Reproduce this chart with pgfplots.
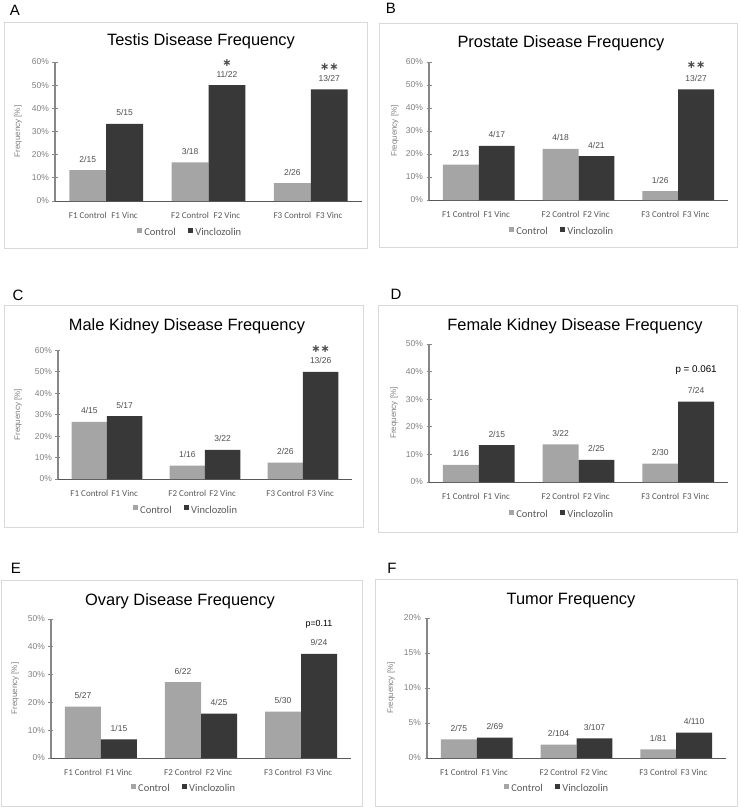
\documentclass[border=0pt]{standalone}
\usepackage{fontspec}
\setmainfont{Liberation Sans}
\newfontfamily\carl{Carlito}
\newfontfamily\djv{DejaVu Sans}
\usepackage{pgfplots}
\usepackage{pgfplotstable}
\pgfplotsset{compat=1.18}
\definecolor{ctrl}{HTML}{A5A5A5}
\definecolor{vinc}{HTML}{383838}
\definecolor{boxc}{HTML}{D9D9D9}
\definecolor{tickc}{HTML}{7F7F7F}
\definecolor{labc}{HTML}{4D4D4D}
\definecolor{catc}{HTML}{595959}
\definecolor{yax}{HTML}{888888}
\definecolor{xax}{HTML}{595959}

% data: x = bar position (generation 0,1,2 -/+ 0.18), y = frequency in %, lab = count
\pgfplotstableread{
x y lab
-0.18 13.33 2/15
0.82 16.67 3/18
1.82 7.69 2/26
}\Actrl
\pgfplotstableread{
x y lab
0.18 33.33 5/15
1.18 50.00 11/22
2.18 48.15 13/27
}\Avinc
\pgfplotstableread{
x y lab
-0.18 15.38 2/13
0.82 22.22 4/18
1.82 3.85 1/26
}\Bctrl
\pgfplotstableread{
x y lab
0.18 23.53 4/17
1.18 19.05 4/21
2.18 48.15 13/27
}\Bvinc
\pgfplotstableread{
x y lab
-0.18 26.67 4/15
0.82 6.25 1/16
1.82 7.69 2/26
}\Cctrl
\pgfplotstableread{
x y lab
0.18 29.41 5/17
1.18 13.64 3/22
2.18 50.00 13/26
}\Cvinc
\pgfplotstableread{
x y lab
-0.18 6.25 1/16
0.82 13.64 3/22
1.82 6.67 2/30
}\Dctrl
\pgfplotstableread{
x y lab
0.18 13.33 2/15
1.18 8.00 2/25
2.18 29.17 7/24
}\Dvinc
\pgfplotstableread{
x y lab
-0.18 18.52 5/27
0.82 27.27 6/22
1.82 16.67 5/30
}\Ectrl
\pgfplotstableread{
x y lab
0.18 6.67 1/15
1.18 16.00 4/25
2.18 37.50 9/24
}\Evinc
\pgfplotstableread{
x y lab
-0.18 2.67 2/75
0.82 1.92 2/104
1.82 1.23 1/81
}\Fctrl
\pgfplotstableread{
x y lab
0.18 2.90 2/69
1.18 2.80 3/107
2.18 3.64 4/110
}\Fvinc

\tikzset{sigstar/.style={font=\djv\bfseries\fontsize{11}{12}\selectfont, text=labc}}

\pgfplotsset{
  panel/.style={
    scale only axis, anchor=south west, clip=false,
    xmin=-0.5, xmax=2.5, ymin=0,
    axis lines*=left,
    x axis line style={draw=xax, line width=0.9pt},
    y axis line style={draw=yax, line width=1.1pt},
    xtick={-0.18,0.18,0.82,1.18,1.82,2.18},
    xticklabels={F1 Control, F1 Vinc, F2 Control, F2 Vinc, F3 Control, F3 Vinc},
    xticklabel style={font=\carl\fontsize{9}{10}\selectfont, text=catc, anchor=base, yshift=-14.5pt},
    x tick style={draw=none},
    y tick style={draw=yax, line width=0.9pt},
    tick align=center, major tick length=5pt,
    /pgf/number format/assume math mode=true,
    yticklabel={\pgfmathprintnumber{\tick}\%},
    yticklabel style={font=\fontsize{8.5}{10}\selectfont, text=tickc},
    ylabel={Frequency [\%]},
    ylabel style={font=\fontsize{8}{9}\selectfont, text=tickc, anchor=center},
    legend columns=2,
    legend style={draw=none, fill=none, anchor=center, font=\carl\fontsize{10.5}{12}\selectfont, text=catc,
      /tikz/every even column/.append style={column sep=10pt}, inner sep=0pt},
  },
  cbar/.style={ybar, bar width=0.36, bar shift=0, fill=ctrl, draw=none,
    nodes near coords, point meta=explicit symbolic,
    every node near coord/.append style={font=\fontsize{8.5}{10}\selectfont, text=labc, anchor=center, yshift=11pt},
    legend image code/.code={\fill[ctrl] (0pt,-0.3pt) rectangle (5.5pt,5.2pt);}},
  vbar/.style={ybar, bar width=0.36, bar shift=0, fill=vinc, draw=none,
    nodes near coords, point meta=explicit symbolic,
    every node near coord/.append style={font=\fontsize{8.5}{10}\selectfont, text=labc, anchor=center, yshift=11pt},
    legend image code/.code={\fill[vinc] (0pt,-0.3pt) rectangle (5.5pt,5.2pt);}},
}

\begin{document}
\begin{tikzpicture}
\useasboundingbox (0pt,0pt) rectangle (740pt,-807pt);

% panel frames
\draw[boxc, line width=0.8pt] (4pt,-22pt) rectangle (367pt,-248pt);
\draw[boxc, line width=0.8pt] (379pt,-23pt) rectangle (737pt,-247pt);
\draw[boxc, line width=0.8pt] (4pt,-305pt) rectangle (363pt,-527pt);
\draw[boxc, line width=0.8pt] (378pt,-305pt) rectangle (737pt,-532pt);
\draw[boxc, line width=0.8pt] (1pt,-580pt) rectangle (362pt,-806pt);
\draw[boxc, line width=0.8pt] (375pt,-579pt) rectangle (737pt,-806pt);

% panel letters
\begin{scope}[every node/.style={anchor=base, font=\fontsize{15}{18}\selectfont}]
\node at (15pt,-15pt) {A};
\node at (391pt,-13pt) {B};
\node at (18pt,-300pt) {C};
\node at (396pt,-299pt) {D};
\node at (16pt,-573pt) {E};
\node at (392pt,-573pt) {F};
\end{scope}

% titles
\begin{scope}[every node/.style={anchor=base, font=\fontsize{16.4}{19}\selectfont}]
\node at (201pt,-45pt) {Testis Disease Frequency};
\node at (561pt,-47pt) {Prostate Disease Frequency};
\node at (187pt,-330pt) {Male Kidney Disease Frequency};
\node at (575pt,-330pt) {Female Kidney Disease Frequency};
\node at (180pt,-605pt) {Ovary Disease Frequency};
\node at (571pt,-604pt) {Tumor Frequency};
\end{scope}

% ---------- A ----------
\begin{axis}[panel, at={(55pt,-201pt)}, width=307pt, height=139pt,
  ymax=60, ytick={0,10,...,60},
  ylabel style={at={(axis description cs:-0.12,0.5)}},
  legend style={at={(axis description cs:0.44,-0.23)}}]
\addplot[cbar] table[x=x,y=y,meta=lab] {\Actrl};
\addplot[vbar] table[x=x,y=y,meta=lab] {\Avinc};
\legend{Control, Vinclozolin}
\node[sigstar] at (axis cs:1.18,50) [yshift=22pt] {∗};
\node[sigstar] at (axis cs:2.18,48.15) [yshift=22pt] {∗∗};
\end{axis}

% ---------- B ----------
\begin{axis}[panel, at={(429pt,-200pt)}, width=299pt, height=138pt,
  ymax=60, ytick={0,10,...,60},
  ylabel style={at={(axis description cs:-0.114,0.5)}},
  legend style={at={(axis description cs:0.445,-0.232)}}]
\addplot[cbar] table[x=x,y=y,meta=lab] {\Bctrl};
\addplot[vbar] table[x=x,y=y,meta=lab] {\Bvinc};
\legend{Control, Vinclozolin}
\node[sigstar] at (axis cs:2.18,48.15) [yshift=24pt] {∗∗};
\end{axis}

% ---------- C ----------
\begin{axis}[panel, at={(58pt,-479pt)}, width=294pt, height=128.5pt,
  ymax=60, ytick={0,10,...,60},
  ylabel style={at={(axis description cs:-0.136,0.5)}},
  legend style={at={(axis description cs:0.435,-0.242)}}]
\addplot[cbar] table[x=x,y=y,meta=lab] {\Cctrl};
\addplot[vbar] table[x=x,y=y,meta=lab] {\Cvinc};
\legend{Control, Vinclozolin}
\node[sigstar] at (axis cs:2.18,50) [yshift=23pt] {∗∗};
\end{axis}

% ---------- D ----------
\begin{axis}[panel, at={(429pt,-482pt)}, width=299pt, height=138pt,
  ymax=50, ytick={0,10,...,50},
  ylabel style={at={(axis description cs:-0.117,0.5)}},
  legend style={at={(axis description cs:0.445,-0.239)}}]
\addplot[cbar] table[x=x,y=y,meta=lab] {\Dctrl};
\addplot[vbar] table[x=x,y=y,meta=lab] {\Dvinc};
\legend{Control, Vinclozolin}
\node[font=\fontsize{9.8}{11}\selectfont] at (axis cs:2.18,29.17) [yshift=31pt] {p = 0.061};
\end{axis}

% ---------- E ----------
\begin{axis}[panel, at={(51pt,-758pt)}, width=300pt, height=139pt,
  ymax=50, ytick={0,10,...,50},
  ylabel style={at={(axis description cs:-0.12,0.5)}},
  legend style={at={(axis description cs:0.443,-0.223)}}]
\addplot[cbar] table[x=x,y=y,meta=lab] {\Ectrl};
\addplot[vbar] table[x=x,y=y,meta=lab] {\Evinc};
\legend{Control, Vinclozolin}
\node[font=\fontsize{8.9}{10}\selectfont] at (axis cs:2.18,37.5) [yshift=29pt] {p=0.11};
\end{axis}

% ---------- F ----------
\begin{axis}[panel, at={(427pt,-758pt)}, width=299pt, height=140pt,
  ymax=20, ytick={0,5,...,20},
  ylabel style={at={(axis description cs:-0.12,0.5)}},
  legend style={at={(axis description cs:0.435,-0.221)}}]
\addplot[cbar] table[x=x,y=y,meta=lab] {\Fctrl};
\addplot[vbar] table[x=x,y=y,meta=lab] {\Fvinc};
\legend{Control, Vinclozolin}
\end{axis}
\end{tikzpicture}
\end{document}
